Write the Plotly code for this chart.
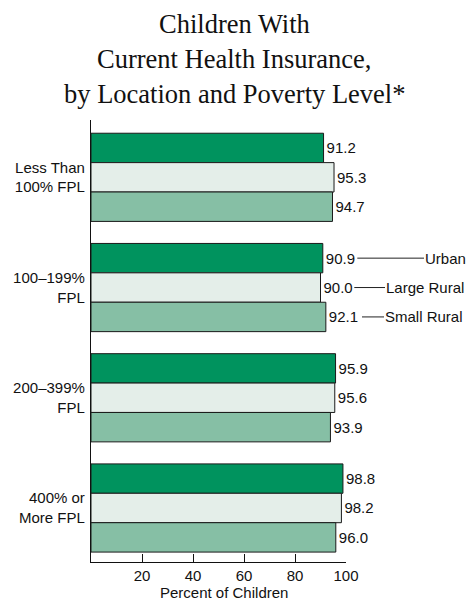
import plotly.graph_objects as go

categories = ["Less Than<br>100% FPL", "100–199%<br>FPL", "200–399%<br>FPL", "400% or<br>More FPL"]
series_names = ["Urban", "Large Rural", "Small Rural"]
urban = [91.2, 90.9, 95.9, 98.8]
large_rural = [95.3, 90.0, 95.6, 98.2]
small_rural = [94.7, 92.1, 93.9, 96.0]
x_tick_vals = [20, 40, 60, 80, 100]
x_tick_text = ["20", "40", "60", "80", "100"]
x_title = "Percent of Children"
title_lines = ["Children With", "Current Health Insurance,", "by Location and Poverty Level*"]

colors = ["#00935E", "#E4EEE9", "#86BFA5"]
series = [urban, large_rural, small_rural]
ypos = list(range(len(categories)))

FS = 15
SANS = "Liberation Sans"

fig = go.Figure()
for name, vals, col in zip(series_names, series, colors):
    fig.add_trace(go.Bar(
        y=ypos, x=vals, name=name, orientation="h",
        marker=dict(color=col, line=dict(color="#1a1a1a", width=1)),
        text=[f"{v:.1f}" for v in vals], textposition="outside",
        textfont=dict(family=SANS, size=FS, color="#111"),
        cliponaxis=False, showlegend=False,
    ))

W, H = 467, 603
ml, mr, mt, mb = 91, 121, 120, 41
pw = W - ml - mr
ph = H - mt - mb

bargap = 0.2
bw = (1 - bargap) / 3

annotations = []
title_py = [24, 59, 94]
for line, py in zip(title_lines, title_py):
    annotations.append(dict(
        text=line, xref="paper", yref="paper", x=(234 - ml) / pw, y=(H - mb - py) / ph,
        xanchor="center", yanchor="middle", showarrow=False,
        font=dict(family="Liberation Serif", size=26.5, color="#111"),
    ))

# x-axis title
annotations.append(dict(
    text=x_title, xref="paper", yref="paper", x=(224 - ml) / pw, y=(H - mb - 592) / ph,
    xanchor="center", yanchor="middle", showarrow=False,
    font=dict(family=SANS, size=FS, color="#111"),
))

# series labels beside the second group
lab_cat = 1
lab_specs = [
    (series_names[0], 357.3, 424, lab_cat - bw),
    (series_names[1], 354.3, 385, lab_cat),
    (series_names[2], 362.0, 384, lab_cat + bw),
]
for name, head_px, text_px, yv in lab_specs:
    annotations.append(dict(
        text=name, xref="paper", yref="y", x=(head_px - ml) / pw, y=yv,
        showarrow=True, arrowhead=0, arrowwidth=1, arrowcolor="#222",
        ax=text_px - head_px, ay=0, xanchor="left", yanchor="middle",
        standoff=0, borderpad=0,
        font=dict(family=SANS, size=FS, color="#111"),
    ))

fig.update_layout(
    template="none",
    width=W, height=H,
    margin=dict(l=ml, r=mr, t=mt, b=mb, pad=0),
    paper_bgcolor="white", plot_bgcolor="white",
    barmode="group", bargap=bargap, bargroupgap=0,
    font=dict(family=SANS, size=FS, color="#111"),
    annotations=annotations,
    xaxis=dict(
        automargin=False,
        range=[0, 100], tickvals=x_tick_vals, ticktext=x_tick_text,
        ticks="inside", ticklen=8, tickwidth=1.3, tickcolor="#111",
        showline=True, linecolor="#111", linewidth=1.3, mirror=False,
        showgrid=False, zeroline=False,
        tickfont=dict(family=SANS, size=FS),
    ),
    yaxis=dict(
        automargin=False,
        range=[3.49, -0.52], tickvals=ypos, ticktext=categories,
        ticks="", showline=True, linecolor="#111", linewidth=1.3,
        showgrid=False, zeroline=False, ticklabelstandoff=2,
        tickfont=dict(family=SANS, size=FS),
    ),
)

fig.write_html(
    "out.html",
    config={"displayModeBar": False},
    post_script="document.body.style.margin='0';",
)
